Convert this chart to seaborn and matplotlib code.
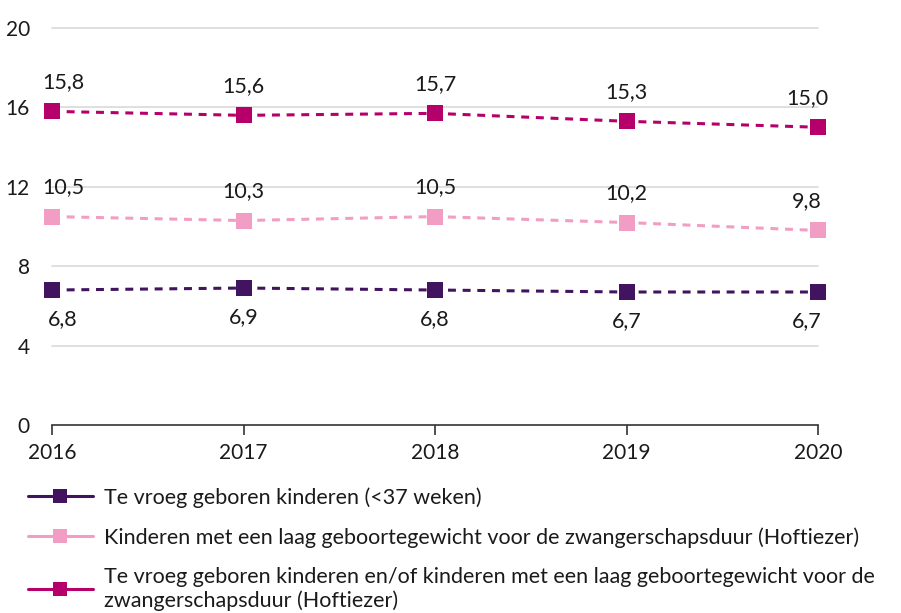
"""Te vroeg geboren kinderen en laag geboortegewicht, 2016-2020."""

import matplotlib.pyplot as plt
import pandas as pd
import seaborn as sns
from matplotlib.lines import Line2D

jaren = [2016, 2017, 2018, 2019, 2020]
te_vroeg = [6.8, 6.9, 6.8, 6.7, 6.7]
laag_gewicht = [10.5, 10.3, 10.5, 10.2, 9.8]
vroeg_of_laag = [15.8, 15.6, 15.7, 15.3, 15.0]

reeksen = [
    "Te vroeg geboren kinderen (<37 weken)",
    "Kinderen met een laag geboortegewicht voor de zwangerschapsduur (Hoftiezer)",
    "Te vroeg geboren kinderen en/of kinderen met een laag geboortegewicht voor de\nzwangerschapsduur (Hoftiezer)",
]
y_ticks = [0, 4, 8, 12, 16, 20]

kleuren = ["#42145f", "#f29ec4", "#b5006b"]
# label boven (+) of onder (-) de marker
label_plek = [-1, 1, 1]

df = pd.DataFrame({
    "jaar": jaren * 3,
    "waarde": te_vroeg + laag_gewicht + vroeg_of_laag,
    "reeks": [r for r in reeksen for _ in jaren],
})

sns.set_theme(style="white")
plt.rcParams["font.family"] = ["Lato", "DejaVu Sans"]

fig = plt.figure(figsize=(9.01, 6.13), dpi=100)
ax = fig.add_axes([52 / 901, 188 / 613, 766 / 901, 397 / 613])

for y in y_ticks[1:]:
    ax.axhline(y, color="#d9d9d9", lw=1.2, zorder=0)

sns.lineplot(
    data=df, x="jaar", y="waarde", hue="reeks", style="reeks",
    palette=kleuren, hue_order=reeksen, style_order=reeksen,
    dashes=[(2.6, 2.2)] * 3, markers=["s"] * 3, markersize=12,
    markeredgewidth=0, linewidth=2.2, legend=False, ax=ax, clip_on=False,
)
for line in ax.lines:
    line.set_clip_on(False)

x_shift = [8, 0, 0, 0, -8]
for reeks, kleur, plek in zip(reeksen, kleuren, label_plek):
    sub = df[df["reeks"] == reeks]
    for i, (x, v) in enumerate(zip(sub["jaar"], sub["waarde"])):
        ax.annotate(
            f"{v:.1f}".replace(".", ","), (x, v),
            xytext=(x_shift[i], 21 * plek), textcoords="offset points",
            ha="center", va="center", fontsize=15.5, color="#1a1a1a",
        )

ax.set_xlim(2016, 2020)
ax.set_ylim(0, 20)
ax.set_xticks(jaren)
ax.set_xticklabels([str(j) for j in jaren])
ax.set_yticks(y_ticks)
ax.set_yticklabels([str(t) for t in y_ticks])
ax.get_yticklabels()[1].set_color("#1f2d5c")
ax.set_xlabel("")
ax.set_ylabel("")
sns.despine(ax=ax, left=True)
ax.spines["bottom"].set_color("#333333")
ax.spines["bottom"].set_linewidth(1.2)
ax.tick_params(axis="x", length=7, width=1.2, color="#333333", pad=6,
               labelsize=15, labelcolor="#1a1a1a", bottom=True)
ax.tick_params(axis="y", length=0, pad=16, labelsize=15, labelcolor="#1a1a1a")

handles = [
    Line2D([0], [0], color=k, lw=2.2, marker="s", markersize=10, markeredgewidth=0)
    for k in kleuren
]
fig.legend(
    handles, reeksen, loc="upper left", bbox_to_anchor=(28 / 901, 1 - 487 / 613),
    frameon=False, fontsize=15.5, handlelength=3.0, handletextpad=0.55,
    labelspacing=0.9, borderpad=0, borderaxespad=0, labelcolor="#1a1a1a",
)

fig.savefig("out.png", dpi=100)
